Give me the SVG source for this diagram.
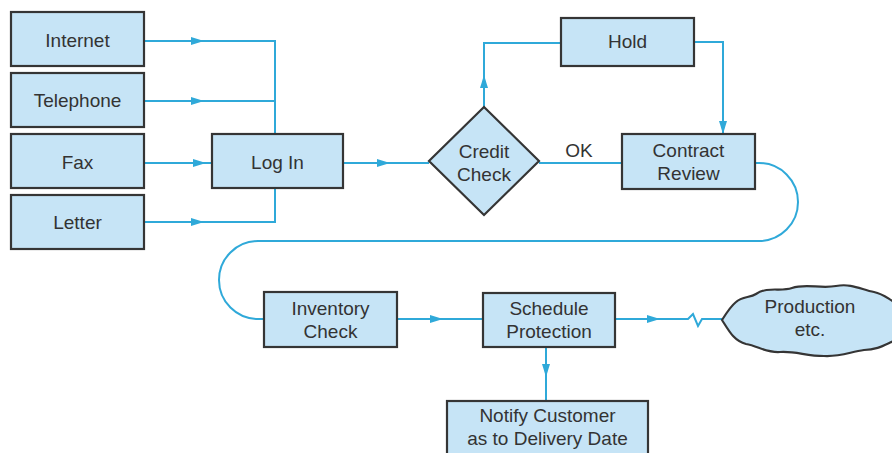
<svg xmlns="http://www.w3.org/2000/svg" width="892" height="453" viewBox="0 0 892 453">
<defs>
<style>
.box{fill:#c6e4f6;stroke:#353535;stroke-width:2.2}
.lbl{font-family:"Liberation Sans",Arial,sans-serif;font-size:19px;fill:#333;text-anchor:middle}
.con{fill:none;stroke:#2fa9d9;stroke-width:2}
</style>
<marker id="arr" viewBox="0 0 13 8" refX="13" refY="4" markerWidth="13" markerHeight="8" markerUnits="userSpaceOnUse" orient="auto">
<path d="M0,0 L13,4 L0,8 z" fill="#2fa9d9"/>
</marker>
</defs>
<rect width="892" height="453" fill="#fff"/>
<g id="connectors">
<path class="con" d="M144,41 H204" marker-end="url(#arr)"/>
<path class="con" d="M204,41 H275 V134"/>
<path class="con" d="M144,101 H204" marker-end="url(#arr)"/>
<path class="con" d="M204,101 H275"/>
<path class="con" d="M144,163 H206" marker-end="url(#arr)"/>
<path class="con" d="M206,163 H212"/>
<path class="con" d="M144,222 H204" marker-end="url(#arr)"/>
<path class="con" d="M204,222 H275 V188"/>
<path class="con" d="M343,163 H390" marker-end="url(#arr)"/>
<path class="con" d="M390,163 H429"/>
<path class="con" d="M484,107 V75" marker-end="url(#arr)"/>
<path class="con" d="M484,75 V43 H561"/>
<path class="con" d="M694,42 H723 V134" marker-end="url(#arr)"/>
<path class="con" d="M539,163 H622"/>
<path class="con" d="M755,163 H759 A39,39 0 0 1 759,241 H258 A39,39 0 0 0 258,319 H264"/>
<path class="con" d="M397,319 H443" marker-end="url(#arr)"/>
<path class="con" d="M443,319 H483"/>
<path class="con" d="M546,347 V377" marker-end="url(#arr)"/>
<path class="con" d="M546,377 V401"/>
<path class="con" d="M615,319 H660" marker-end="url(#arr)"/>
<path class="con" d="M660,319 H688 L693,314 L698,326 L702,319 H723"/>
<text class="lbl" x="579" y="157">OK</text>
</g>
<g id="internet"><rect class="box" x="11" y="12" width="133" height="54"/><text class="lbl" x="77.5" y="47">Internet</text></g>
<g id="telephone"><rect class="box" x="11" y="73" width="133" height="54"/><text class="lbl" x="77.5" y="107">Telephone</text></g>
<g id="fax"><rect class="box" x="11" y="134" width="133" height="54"/><text class="lbl" x="77.5" y="169">Fax</text></g>
<g id="letter"><rect class="box" x="11" y="195" width="133" height="54"/><text class="lbl" x="77.5" y="229">Letter</text></g>
<g id="login"><rect class="box" x="212" y="134" width="131" height="54"/><text class="lbl" x="277.5" y="169">Log In</text></g>
<g id="credit"><polygon class="box" points="484,107 539,161 484,215 429,161"/><text class="lbl" x="484" y="158">Credit</text><text class="lbl" x="484" y="181">Check</text></g>
<g id="hold"><rect class="box" x="561" y="18" width="133" height="48"/><text class="lbl" x="627.5" y="48">Hold</text></g>
<g id="contract"><rect class="box" x="622" y="134" width="133" height="55"/><text class="lbl" x="688.5" y="157">Contract</text><text class="lbl" x="688.5" y="180">Review</text></g>
<g id="inventory"><rect class="box" x="264" y="292" width="133" height="55"/><text class="lbl" x="330.5" y="315">Inventory</text><text class="lbl" x="330.5" y="338">Check</text></g>
<g id="schedule"><rect class="box" x="483" y="293" width="132" height="54"/><text class="lbl" x="549" y="315">Schedule</text><text class="lbl" x="549" y="338">Protection</text></g>
<g id="notify"><rect class="box" x="447" y="401" width="201" height="60"/><text class="lbl" x="547.5" y="422">Notify Customer</text><text class="lbl" x="547.5" y="445">as to Delivery Date</text></g>
<g id="production"><path class="box" d="M722,320 C727,312 731,306 736,302 C742,296 750,298 756,294 C768,286 780,292 792,288 C806,283 820,289 836,286 C852,283 862,290 874,292 C884,294 888,299 896,303 L896,340 C886,344 878,350 864,350 C850,352 840,357 824,356 C806,356 796,351 780,352 C766,353 758,346 746,344 C734,341 729,331 722,320 Z"/><text class="lbl" x="810" y="313">Production</text><text class="lbl" x="810" y="336">etc.</text></g>
</svg>
